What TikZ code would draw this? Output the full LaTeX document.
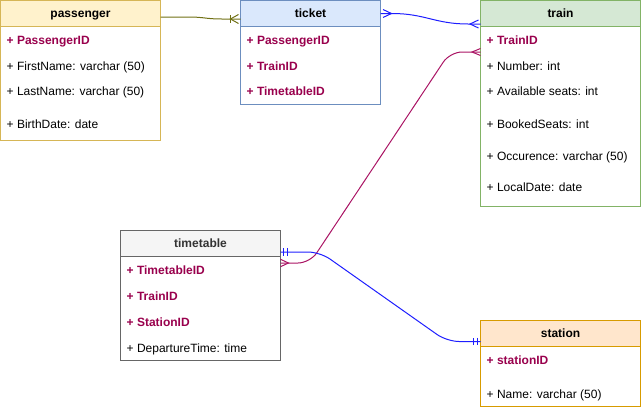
\documentclass[tikz,border=0pt]{standalone}
\usepackage{fontspec}
\setmainfont{Liberation Sans}
\usetikzlibrary{calc}
\definecolor{keyc}{RGB}{153,0,77}
\definecolor{pfill}{HTML}{FFF2CC}\definecolor{pdraw}{HTML}{D6B656}
\definecolor{tfill}{HTML}{DAE8FC}\definecolor{tdraw}{HTML}{6C8EBF}
\definecolor{rfill}{HTML}{D5E8D4}\definecolor{rdraw}{HTML}{82B366}
\definecolor{gfill}{HTML}{F5F5F5}\definecolor{gdraw}{HTML}{666666}
\definecolor{sfill}{HTML}{FFE6CC}\definecolor{sdraw}{HTML}{D79B00}
\definecolor{olivec}{RGB}{112,112,20}
\definecolor{bluec}{RGB}{30,30,255}
\definecolor{purplec}{RGB}{170,20,100}
\tikzset{
  hdr/.style={rectangle, line width=1pt, inner sep=0pt, outer sep=0pt, anchor=north west, minimum height=26pt, text height=8.6pt, text depth=0pt, font=\fontsize{12}{14}\selectfont\bfseries},
  body/.style={rectangle, line width=1pt, inner sep=0pt, outer sep=0pt, anchor=north west, fill=white},
  row/.style={anchor=west, inner sep=0pt, text height=8.6pt, text depth=0pt, font=\fontsize{12}{14}\selectfont},
  keyrow/.style={row, text=keyc, font=\fontsize{12}{14}\selectfont\bfseries},
  conn/.style={line width=1pt},
}
\begin{document}
\begin{tikzpicture}[x=1pt,y=-1pt]
\useasboundingbox (0,0) rectangle (641,410);
% passenger
\node[hdr, fill=pfill, draw=pdraw, minimum width=160pt] (passenger) at (0.5,0.5) {passenger};
\node[body, draw=pdraw, minimum width=160pt, minimum height=114pt] (passenger-b) at (passenger.south west) {};
\node[keyrow] (p1) at (6.5,40) {+ PassengerID};
\node[row] (p2) at (6.5,66) {+ FirstName: varchar (50)};
\node[row] (p3) at (6.5,91) {+ LastName: varchar (50)};
\node[row] (p4) at (6.5,124) {+ BirthDate: date};
% ticket
\node[hdr, fill=tfill, draw=tdraw, minimum width=140pt] (ticket) at (240.5,0.5) {ticket};
\node[body, draw=tdraw, minimum width=140pt, minimum height=78pt] (ticket-b) at (ticket.south west) {};
\node[keyrow] (k1) at (246.5,40) {+ PassengerID};
\node[keyrow] (k2) at (246.5,66) {+ TrainID};
\node[keyrow] (k3) at (246.5,91) {+ TimetableID};
% train
\node[hdr, fill=rfill, draw=rdraw, minimum width=160pt] (train) at (480.5,0.5) {train};
\node[body, draw=rdraw, minimum width=160pt, minimum height=180pt] (train-b) at (train.south west) {};
\node[keyrow] (r1) at (486.5,40) {+ TrainID};
\node[row] (r2) at (486.5,66) {+ Number: int};
\node[row] (r3) at (486.5,91) {+ Available seats: int};
\node[row] (r4) at (486.5,124) {+ BookedSeats: int};
\node[row] (r5) at (486.5,156) {+ Occurence: varchar (50)};
\node[row] (r6) at (486.5,187.5) {+ LocalDate: date};
% timetable
\node[hdr, fill=gfill, draw=gdraw, text=black!80, minimum width=160pt] (timetable) at (120.5,230.5) {timetable};
\node[body, draw=gdraw, minimum width=160pt, minimum height=104pt] (timetable-b) at (timetable.south west) {};
\node[keyrow] (g1) at (126.5,270) {+ TimetableID};
\node[keyrow] (g2) at (126.5,296) {+ TrainID};
\node[keyrow] (g3) at (126.5,322) {+ StationID};
\node[row] (g4) at (126.5,348) {+ DepartureTime: time};
% station
\node[hdr, fill=sfill, draw=sdraw, minimum width=160pt] (station) at (480.5,320.5) {station};
\node[body, draw=sdraw, minimum width=160pt, minimum height=60pt] (station-b) at (station.south west) {};
\node[keyrow] (s1) at (486.5,360) {+ stationID};
\node[row] (s2) at (486.5,394) {+ Name: varchar (50)};
% connector end points
\coordinate (c1a) at (160.5,17);
\coordinate (c1b) at (240.5,19);
\coordinate (c2a) at (380.5,13.5);
\coordinate (c2b) at (480.5,24);
\coordinate (c3a) at (280.5,263);
\coordinate (c3b) at (480.5,52);
\coordinate (c4a) at (280.5,252);
\coordinate (c4b) at (480.5,341.5);
% passenger - ticket
\draw[conn, olivec] (c1a) -- (188,17) .. controls (205,17) and (205,19) .. (222,19) -- (c1b);
\draw[conn, olivec] (c1b) ++(-2,-4.5) -- ++(-8,4.5) -- ++(8,4.5);
\draw[conn, olivec] (c1b) ++(-10,-4) -- ++(0,8);
% ticket - train
\draw[conn, bluec] (c2a) -- (392,13.5) .. controls (425,13.5) and (435,24) .. (468,24) -- (c2b);
\draw[conn, bluec] (c2a) ++(2.5,-4) -- ++(8.5,4) -- ++(-8.5,4);
\draw[conn, bluec] (c2b) ++(-2,-4) -- ++(-8.5,4) -- ++(8.5,4);
% timetable - train
\draw[conn, purplec, rounded corners=12pt] (c3a) -- (310,263) -- (450,52) -- (c3b);
\draw[conn, purplec] (c3a) ++(0,-3.7) -- ++(8,3.7) -- ++(-8,3.7);
\draw[conn, purplec] (c3b) ++(0,-3.5) -- ++(-8.5,3.5) -- ++(8.5,3.5);
% timetable - station
\draw[conn, bluec, rounded corners=12pt] (c4a) -- (320,252) -- (447,341.5) -- (c4b);
\draw[conn, bluec] (c4a) ++(3,-3.7) -- ++(0,7.4) ++(4,0) -- ++(0,-7.4);
\draw[conn, bluec] (c4b) ++(-3.5,-3.7) -- ++(0,7.4) ++(-4,0) -- ++(0,-7.4);
\end{tikzpicture}
\end{document}
